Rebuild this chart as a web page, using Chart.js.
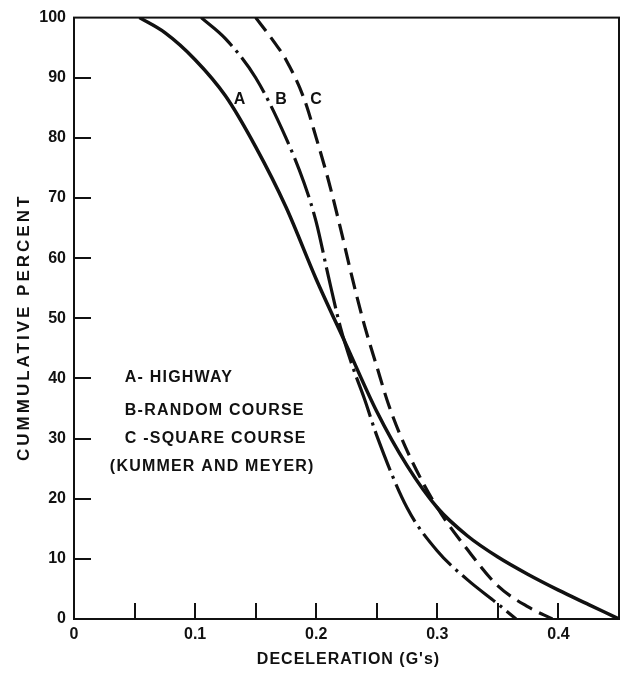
<!DOCTYPE html>
<html>
<head>
<meta charset="utf-8">
<style>
  html, body { margin: 0; padding: 0; background: #ffffff; }
  #wrap { width: 625px; height: 673px; }
  canvas { display: block; }
</style>
<script src="https://cdn.jsdelivr.net/npm/chart.js@4.4.1/dist/chart.umd.min.js"></script>
</head>
<body>
<div id="wrap"><canvas id="c" width="625" height="673"></canvas></div>
<script>
// Cumulative percent of stops at or above a given deceleration (G's)

// A - Highway
const highwayX = [0.054, 0.075, 0.100, 0.125, 0.150, 0.175, 0.200, 0.225, 0.250, 0.275, 0.300, 0.325, 0.350, 0.375, 0.400, 0.425, 0.450];
const highwayY = [100, 97.5, 93.0, 87.0, 78.5, 68.5, 56.5, 45.5, 34.5, 25.5, 18.5, 13.8, 10.3, 7.4, 4.8, 2.4, 0];

// B - Random course
const randomX = [0.105, 0.125, 0.150, 0.175, 0.190, 0.200, 0.210, 0.220, 0.230, 0.240, 0.250, 0.275, 0.300, 0.325, 0.350, 0.365];
const randomY = [100, 96.5, 90.0, 80.0, 72.5, 66.0, 57.0, 48.5, 42.0, 36.5, 30.5, 18.5, 11.3, 6.5, 2.5, 0];

// C - Square course
const squareX = [0.150, 0.165, 0.175, 0.190, 0.200, 0.210, 0.220, 0.230, 0.240, 0.250, 0.260, 0.275, 0.300, 0.325, 0.350, 0.375, 0.395];
const squareY = [100, 96.0, 93.0, 86.5, 80.0, 73.0, 65.0, 56.5, 48.7, 42.0, 35.5, 28.0, 18.5, 11.5, 5.5, 2.0, 0];

// Axis ticks
const xTickValues = [0, 0.05, 0.1, 0.15, 0.2, 0.25, 0.3, 0.35, 0.4, 0.45];
const xTickLabels = ['0', '', '0.1', '', '0.2', '', '0.3', '', '0.4', ''];
const yTickValues = [0, 10, 20, 30, 40, 50, 60, 70, 80, 90, 100];
const yTickLabels = ['0', '10', '20', '30', '40', '50', '60', '70', '80', '90', '100'];
const xInnerTicks = [0.05, 0.1, 0.15, 0.2, 0.25, 0.3, 0.35, 0.4];
const yInnerTicks = [10, 20, 30, 40, 50, 60, 70, 80, 90];

// Texts
const xTitle = "DECELERATION (G's)";
const yTitle = 'CUMMULATIVE PERCENT';
const curveTags = [
  { text: 'A', x: 0.1366, y: 86.4 },
  { text: 'B', x: 0.1709, y: 86.4 },
  { text: 'C', x: 0.1999, y: 86.4 }
];
const keyLines = [
  { text: 'A- HIGHWAY', x: 0.042, y: 40.2 },
  { text: 'B-RANDOM COURSE', x: 0.042, y: 34.7 },
  { text: 'C -SQUARE COURSE', x: 0.042, y: 30.0 },
  { text: '(KUMMER AND MEYER)', x: 0.0296, y: 25.3 }
];

const INK = '#111111';
const FONT = '"Liberation Sans", Arial, sans-serif';

function pts(xs, ys) {
  return xs.map((x, i) => ({ x: x, y: ys[i] }));
}

const framePlugin = {
  id: 'frame',
  afterDraw(chart) {
    const { ctx, chartArea: a, scales } = chart;
    const xs = scales.x, ys = scales.y;
    ctx.save();
    ctx.strokeStyle = INK;
    ctx.fillStyle = INK;
    ctx.lineWidth = 2;
    ctx.strokeRect(a.left, a.top, a.right - a.left, a.bottom - a.top);

    // inward tick marks
    ctx.beginPath();
    xInnerTicks.forEach(v => {
      const px = Math.round(xs.getPixelForValue(v));
      ctx.moveTo(px, a.bottom);
      ctx.lineTo(px, a.bottom - 16);
    });
    yInnerTicks.forEach(v => {
      const py = Math.round(ys.getPixelForValue(v));
      ctx.moveTo(a.left, py);
      ctx.lineTo(a.left + 17, py);
    });
    ctx.stroke();

    // curve tags
    ctx.font = 'bold 16px ' + FONT;
    ctx.textAlign = 'center';
    ctx.textBaseline = 'middle';
    ctx.letterSpacing = '0px';
    curveTags.forEach(t => {
      ctx.fillText(t.text, xs.getPixelForValue(t.x), ys.getPixelForValue(t.y));
    });

    // key
    ctx.font = 'bold 16px ' + FONT;
    ctx.textAlign = 'left';
    ctx.letterSpacing = '1.2px';
    keyLines.forEach(t => {
      ctx.fillText(t.text, xs.getPixelForValue(t.x), ys.getPixelForValue(t.y));
    });

    // axis titles
    ctx.textAlign = 'center';
    ctx.letterSpacing = '1px';
    ctx.font = 'bold 16px ' + FONT;
    ctx.fillText(xTitle, (a.left + a.right) / 2 + 2, a.bottom + 41);

    ctx.save();
    ctx.translate(24, (a.top + a.bottom) / 2 + 9);
    ctx.rotate(-Math.PI / 2);
    ctx.font = 'bold 17px ' + FONT;
    ctx.letterSpacing = '3px';
    ctx.fillText(yTitle, 0, 0);
    ctx.restore();

    ctx.restore();
  }
};

const lineBase = {
  borderColor: INK,
  pointRadius: 0,
  showLine: true,
  fill: false,
  cubicInterpolationMode: 'monotone',
  borderCapStyle: 'butt',
  borderJoinStyle: 'round'
};

new Chart(document.getElementById('c'), {
  type: 'scatter',
  data: {
    datasets: [
      Object.assign({ label: 'A - Highway', data: pts(highwayX, highwayY), borderWidth: 3.5 }, lineBase),
      Object.assign({ label: 'B - Random course', data: pts(randomX, randomY), borderWidth: 3.2, borderDash: [42, 6, 3, 6] }, lineBase),
      Object.assign({ label: 'C - Square course', data: pts(squareX, squareY), borderWidth: 3.2, borderDash: [17, 8] }, lineBase)
    ]
  },
  options: {
    responsive: false,
    animation: false,
    layout: { padding: { top: 16, right: 3, left: 0, bottom: 0 } },
    plugins: { legend: { display: false }, tooltip: { enabled: false } },
    scales: {
      x: {
        type: 'linear',
        min: 0,
        max: 0.45,
        afterBuildTicks: s => { s.ticks = xTickValues.map(v => ({ value: v })); },
        afterFit: s => { s.height = 54; },
        grid: { display: false, drawTicks: false },
        border: { display: false },
        ticks: {
          autoSkip: false,
          maxRotation: 0,
          padding: 6,
          color: INK,
          font: { family: FONT, size: 16, weight: 'bold' },
          callback: (v, i) => xTickLabels[i]
        }
      },
      y: {
        type: 'linear',
        min: 0,
        max: 100,
        afterBuildTicks: s => { s.ticks = yTickValues.map(v => ({ value: v })); },
        afterFit: s => { s.width = 74; },
        grid: { display: false, drawTicks: false },
        border: { display: false },
        ticks: {
          autoSkip: false,
          padding: 8,
          color: INK,
          font: { family: FONT, size: 16, weight: 'bold' },
          callback: (v, i) => yTickLabels[i]
        }
      }
    }
  },
  plugins: [framePlugin]
});
</script>
</body>
</html>
